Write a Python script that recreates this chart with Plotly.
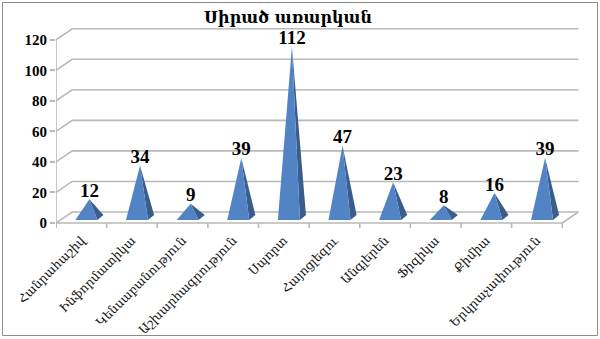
import plotly.graph_objects as go

categories = ["Հանրահաշիվ", "Ինֆորմատիկա", "Կենսաբանություն", "Աշխարհագրություն",
              "Սպորտ", "Հայոցլեզու", "Անգլերեն", "Ֆիզիկա", "Քիմիա", "Երկրաչափություն"]
values = [12, 34, 9, 39, 112, 47, 23, 8, 16, 39]
y_ticks = [0, 20, 40, 60, 80, 100, 120]
title = "Սիրած առարկան"

# pseudo-3D geometry (in data units)
DX, DY = 0.32, 7.2          # depth offset of back wall
HW = 0.2175                  # half width of pyramid base
PDX, PDY = 0.06, 1.65        # half depth of pyramid base
n = len(categories)
x0, x1 = -0.5, n - 0.5
ymin, ymax = -3.3, 129

L, R, T, B = 56, 20, 26, 111
W, H = 600, 339
pw, ph = W - L - R, H - T - B

GRID = "#B9B9B9"
fig = go.Figure()

# back-wall gridlines and left-wall diagonals
gx, gy = [], []
for v in y_ticks:
    gx += [x0, x0 + DX, x1 + DX, None]
    gy += [v, v + DY, v + DY, None]
# floor front edge and right diagonal
gx += [x0, x1, x1 + DX, None]
gy += [0, 0, DY, None]
# front vertical axis
gx += [x0, x0, None]
gy += [ymin, y_ticks[-1], None]
# category boundary ticks
for i in range(n + 1):
    gx += [x0 + i, x0 + i, None]
    gy += [0, ymin, None]
fig.add_trace(go.Scatter(x=gx, y=gy, mode="lines", line=dict(color=GRID, width=1.6),
                         hoverinfo="skip", showlegend=False))

# pyramids
fx, fy, rx, ry, ax, ay = [], [], [], [], [], []
for i, v in enumerate(values):
    cx = i + DX / 2
    cy = DY / 2
    flx, fly = cx - PDX - HW, cy - PDY
    frx, fry = cx - PDX + HW, cy - PDY
    brx, bry = cx + PDX + HW, cy + PDY
    apx, apy = cx, v + cy
    fx += [flx, frx, apx, flx, None]
    fy += [fly, fry, apy, fly, None]
    rx += [frx, brx, apx, frx, None]
    ry += [fry, bry, apy, fry, None]
    ax.append(apx)
    ay.append(apy - 1.5)

fig.add_trace(go.Scatter(x=rx, y=ry, mode="lines", fill="toself", fillcolor="#3A5E8C",
                         line=dict(width=0, color="#3A5E8C"), hoverinfo="skip", showlegend=False))
fig.add_trace(go.Scatter(x=fx, y=fy, mode="lines", fill="toself", fillcolor="#5283C4",
                         line=dict(width=0, color="#5283C4"), hoverinfo="skip", showlegend=False))
fig.add_trace(go.Scatter(x=ax, y=ay, mode="text", text=[str(v) for v in values],
                         textposition="top center", cliponaxis=False,
                         textfont=dict(family="Liberation Serif, DejaVu Serif", size=19,
                                       color="black", weight="bold"),
                         hoverinfo="skip", showlegend=False))

fig.update_layout(
    width=W, height=H,
    margin=dict(l=L, r=R, t=T, b=B),
    paper_bgcolor="white", plot_bgcolor="white",
    title=dict(text=title, x=(288) / W, xanchor="center", y=1 - 17 / H, yanchor="middle",
               font=dict(family="DejaVu Serif", size=16, color="black", weight="bold")),
    xaxis=dict(range=[x0, x1 + DX + 0.03], tickvals=list(range(n)), ticktext=categories,
               tickangle=-45, showgrid=False, zeroline=False, showline=False, ticks="",
               automargin=False, ticklabelstandoff=2,
               tickfont=dict(family="DejaVu Serif", size=12.3, color="#111111")),
    yaxis=dict(range=[ymin, ymax], tickvals=y_ticks, showgrid=False, zeroline=False,
               showline=False, ticks="outside", ticklen=5, tickcolor=GRID, tickwidth=1.6,
               automargin=False,
               tickfont=dict(family="Liberation Serif, DejaVu Serif", size=15, color="black",
                             weight="bold")),
    shapes=[dict(type="rect", xref="paper", yref="paper",
                 x0=(2.5 - L) / pw, x1=(597.5 - L) / pw,
                 y0=(H - B - 335.5) / ph, y1=(H - B - 2.5) / ph,
                 line=dict(color="#8C8C8C", width=1), fillcolor="rgba(0,0,0,0)", layer="below")],
)

fig.write_html("out.html")
